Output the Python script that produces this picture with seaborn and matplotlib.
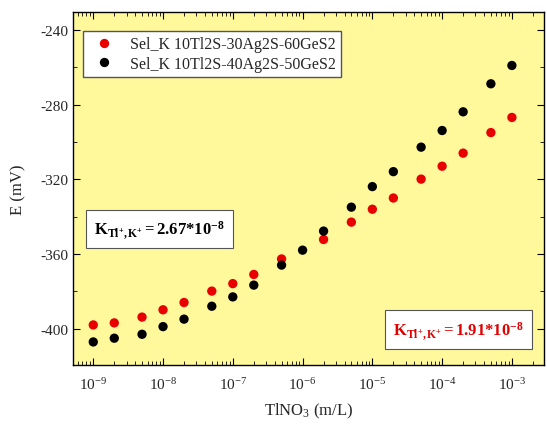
import numpy as np
import pandas as pd
import matplotlib
matplotlib.use('Agg')
import matplotlib.pyplot as plt
from matplotlib.ticker import LogLocator, NullFormatter, MultipleLocator
import seaborn as sns

conc_red = [1e-9, 2e-9, 5e-9, 1e-8, 2e-8, 5e-8, 1e-7, 2e-7, 5e-7,
            2e-6, 5e-6, 1e-5, 2e-5, 5e-5, 1e-4, 2e-4, 5e-4, 1e-3]
e_red = [-397.9, -396.8, -393.7, -389.8, -385.9, -379.8, -375.8, -370.9, -362.6,
         -352.2, -342.9, -336.0, -330.0, -319.9, -313.0, -306.0, -295.0, -286.9]

conc_black = [1e-9, 2e-9, 5e-9, 1e-8, 2e-8, 5e-8, 1e-7, 2e-7, 5e-7, 1e-6,
              2e-6, 5e-6, 1e-5, 2e-5, 5e-5, 1e-4, 2e-4, 5e-4, 1e-3]
e_black = [-407.0, -405.0, -402.9, -398.8, -394.8, -387.9, -382.9, -376.6, -365.9, -357.9,
           -347.7, -334.9, -323.9, -315.9, -302.8, -293.9, -283.9, -268.9, -259.1]

series_names = ['Sel_K 10Tl2S-30Ag2S-60GeS2', 'Sel_K 10Tl2S-40Ag2S-50GeS2']
x_ticks = [1e-9, 1e-8, 1e-7, 1e-6, 1e-5, 1e-4, 1e-3]
x_labels = ['10$^{-9}$', '10$^{-8}$', '10$^{-7}$', '10$^{-6}$', '10$^{-5}$', '10$^{-4}$', '10$^{-3}$']

df = pd.concat([
    pd.DataFrame({'conc': conc_red, 'E': e_red, 'series': series_names[0]}),
    pd.DataFrame({'conc': conc_black, 'E': e_black, 'series': series_names[1]}),
])

sns.set_style('ticks')
plt.rcParams['font.family'] = ['Liberation Serif', 'DejaVu Serif']
plt.rcParams['axes.unicode_minus'] = False
plt.rcParams['mathtext.fontset'] = 'custom'
plt.rcParams['mathtext.rm'] = 'Liberation Serif'
plt.rcParams['mathtext.it'] = 'Liberation Serif:italic'
plt.rcParams['mathtext.bf'] = 'Liberation Serif:bold'

fig = plt.figure(figsize=(5.47, 4.27), dpi=100)
ax = fig.add_axes([0.1335, 0.143, 0.861, 0.827])
ax.set_facecolor('#fff99c')

sns.scatterplot(data=df, x='conc', y='E', hue='series',
                palette=['#e80000', '#000000'], s=45, edgecolor='none', ax=ax)

ax.set_xscale('log')
ax.set_xlim(10 ** -9.29, 10 ** -2.54)
ax.set_ylim(-419.3, -230.4)
ax.yaxis.set_major_locator(MultipleLocator(40))
ax.yaxis.set_minor_locator(MultipleLocator(20))
ax.set_xticks(x_ticks)
ax.set_xticklabels(x_labels)
ax.xaxis.set_minor_locator(LogLocator(base=10, subs=np.arange(2, 10), numticks=20))
ax.xaxis.set_minor_formatter(NullFormatter())
ax.tick_params(which='both', direction='in', top=True, right=True, labelsize=11, color='black')
ax.tick_params(which='major', length=5)
ax.tick_params(which='minor', length=3)
ax.tick_params(axis='x', pad=8)
for s in ax.spines.values():
    s.set_color('black')
    s.set_linewidth(1.0)

ax.set_xlabel(r'TlNO$_3$ (m/L)', fontsize=12, labelpad=6)
ax.set_ylabel('E (mV)', fontsize=12, labelpad=10)

leg = ax.legend(loc='upper left', bbox_to_anchor=(0.021, 0.946), fontsize=11.5,
                frameon=True, fancybox=False, edgecolor='#555555',
                handletextpad=0.6, borderpad=0.35, labelspacing=0.2, borderaxespad=0)
leg.get_frame().set_facecolor('white')
leg.get_frame().set_alpha(1)

ax.text(0.045, 0.385, r'$\mathbf{K_{Tl^{+},K^{+}}}$$\mathbf{=2.67{*}10^{-8}}$',
        transform=ax.transAxes, fontsize=12, color='black', va='center', ha='left',
        bbox=dict(boxstyle='square,pad=0.5', facecolor='white', edgecolor='#555555', lw=0.8))
ax.text(0.68, 0.10, r'$\mathbf{K_{Tl^{+},K^{+}}}$$\mathbf{=1.91{*}10^{-8}}$',
        transform=ax.transAxes, fontsize=12, color='#e00000', va='center', ha='left',
        bbox=dict(boxstyle='square,pad=0.5', facecolor='white', edgecolor='#555555', lw=0.8))

fig.savefig('out.png', dpi=100)
